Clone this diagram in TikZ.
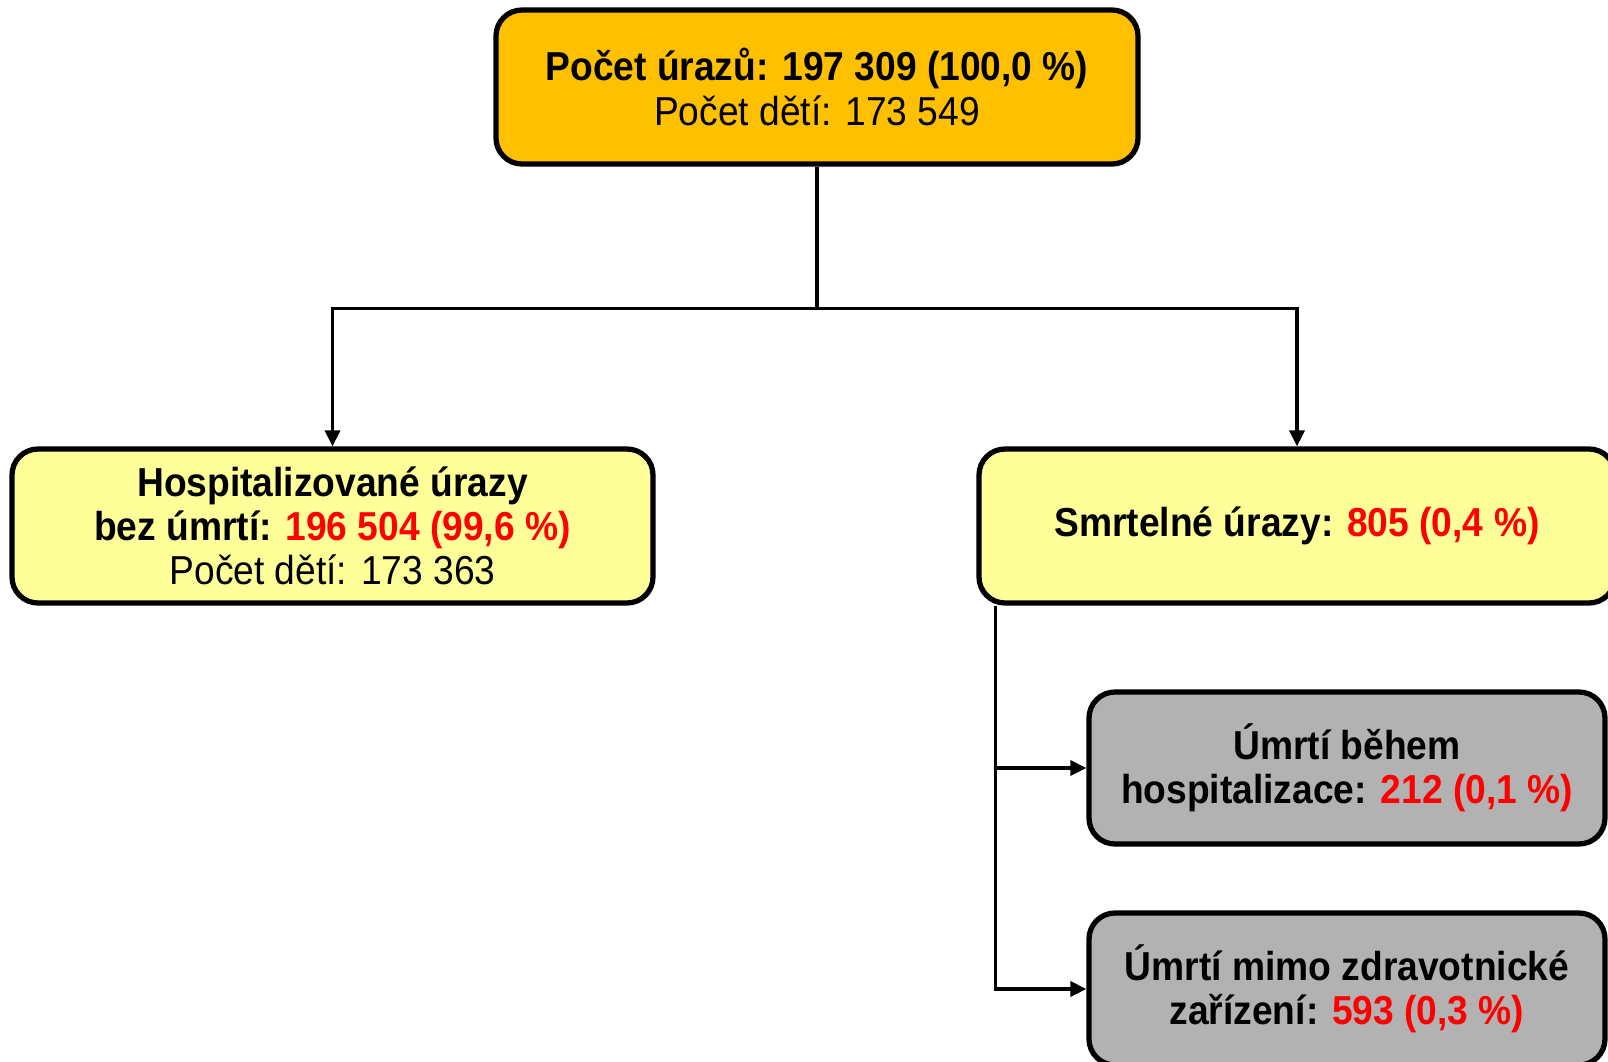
\documentclass[tikz,border=0pt]{standalone}
\usepackage{fontspec}
\setmainfont[FakeStretch=0.92]{Liberation Sans}
\usepackage{tikz}
\usetikzlibrary{positioning}
\usetikzlibrary{arrows.meta}
\definecolor{boxorange}{HTML}{FFC000}
\definecolor{boxyellow}{HTML}{FFFF99}
\definecolor{boxgray}{HTML}{B2B2B2}
\tikzset{
    mybox/.style = {rectangle, rounded corners=0.26cm, line width=1.5pt, draw=black, align=center,
                    minimum height=1.54cm, inner sep=2pt, font=\fontsize{11.5}{12.6}\selectfont},
    myboxo/.style = {mybox, fill=boxorange, minimum width=6.42cm},
    myboxy/.style = {mybox, fill=boxyellow},
    myboxg/.style = {mybox, fill=boxgray, minimum width=5.16cm, minimum height=1.52cm},
    edgen/.style = {-{Triangle[length=0.16cm,width=0.15cm]}, line width=1pt},
    edgep/.style = {line width=1pt}
}
\newcommand{\R}[1]{\textcolor{red}{#1}}

\begin{document}
\begin{tikzpicture}
\useasboundingbox (0,0) rectangle (16.08,10.61);
\node[myboxo] at (8.17, 9.74) (top) {\textbf{Počet úrazů: 197 309 (100,0 \%)}\\Počet dětí: 173 549};
\node[myboxy, minimum width=6.41cm] at (3.325, 5.35) (hosp) {\textbf{Hospitalizované úrazy}\\\textbf{bez úmrtí: \R{196 504 (99,6 \%)}}\\Počet dětí: 173 363};
\node[myboxy, minimum width=6.36cm] at (12.97, 5.35) (smrt) {\textbf{Smrtelné úrazy: \R{805 (0,4 \%)}}};
\node[myboxg] at (13.47, 2.93) (hosdeath) {\textbf{Úmrtí během}\\\textbf{hospitalizace: \R{212 (0,1 \%)}}};
\node[myboxg] at (13.47, 0.72) (outdeath) {\textbf{Úmrtí mimo zdravotnické}\\\textbf{zařízení: \R{593 (0,3 \%)}}};
%
\coordinate (split) at ([yshift=-1.42cm]top.south);
\coordinate (down) at ([xshift=0.19cm]smrt.south west);
\draw[edgep] (top.south) -- (split);
\draw[edgen] (split) -| (hosp.north);
\draw[edgen] (split) -| (smrt.north);
\draw[edgen] (down) |- (hosdeath.west);
\draw[edgen] (down) |- (outdeath.west);
\end{tikzpicture}
\end{document}
